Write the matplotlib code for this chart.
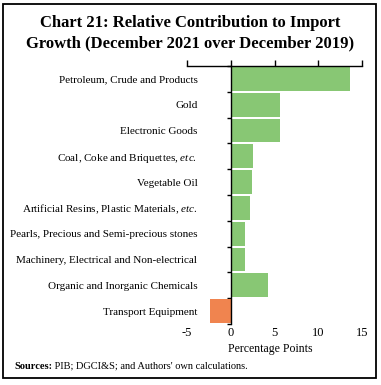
import matplotlib
matplotlib.use("Agg")
import matplotlib.pyplot as plt
from matplotlib.patches import Rectangle
import numpy as np

categories = [
    "Petroleum, Crude and Products",
    "Gold",
    "Electronic Goods",
    "Coal, Coke and Briquettes, $\\it{etc.}$",
    "Vegetable Oil",
    "Artificial Resins, Plastic Materials, $\\it{etc.}$",
    "Pearls, Precious and Semi-precious stones",
    "Machinery, Electrical and Non-electrical",
    "Organic and Inorganic Chemicals",
    "Transport Equipment",
]
values = [13.6, 5.6, 5.6, 2.5, 2.4, 2.15, 1.6, 1.6, 4.3, -2.4]
xticks = [-5, 0, 5, 10, 15]

GREEN = "#88C774"
ORANGE = "#F0844F"
FONT = "Liberation Serif"
plt.rcParams["font.family"] = FONT
plt.rcParams["mathtext.fontset"] = "custom"
plt.rcParams["mathtext.it"] = FONT + ":italic"
plt.rcParams["mathtext.rm"] = FONT
plt.rcParams["mathtext.bf"] = FONT + ":bold"

W, H = 381, 385
fig = plt.figure(figsize=(W / 100, H / 100), dpi=100)

def fx(px):
    return px / W

def fy(py):
    return 1 - py / H

ax = fig.add_axes([fx(187), fy(324), fx(362) - fx(187), fy(66) - fy(324)])
y = np.arange(len(categories))
colors = [GREEN if v >= 0 else ORANGE for v in values]
ax.barh(y, values, height=0.92, color=colors, zorder=2)
ax.set_xlim(-5, 15)
ax.set_ylim(len(categories) - 0.5, -0.5)

for s in ["right", "bottom"]:
    ax.spines[s].set_visible(False)
ax.spines["left"].set_position(("data", 0))
ax.spines["left"].set_zorder(3)
ax.spines["left"].set_linewidth(1.0)
ax.spines["top"].set_linewidth(1.0)

ax.set_xticks(xticks)
ax.set_xticklabels([str(t) for t in xticks])
ax.tick_params(axis="x", top=True, bottom=False, labeltop=False, labelbottom=True,
               direction="out", length=4, width=1.0, labelsize=9, pad=-2)

ax.set_yticks(y)
ax.set_yticklabels(categories)
ax.set_yticks(np.arange(-0.5, len(categories), 1), minor=True)
ax.tick_params(axis="y", which="major", length=0, pad=24, labelsize=8)
ax.tick_params(axis="y", which="minor", length=3, width=1.0, direction="out")

fig.text(fx(270), fy(349), "Percentage Points", ha="center", va="center", fontsize=8.5)

fig.text(fx(190), fy(23), "Chart 21: Relative Contribution to Import", ha="center",
         va="center", fontsize=12, fontweight="bold")
fig.text(fx(190), fy(43), "Growth (December 2021 over December 2019)", ha="center",
         va="center", fontsize=12, fontweight="bold")

src = fig.text(fx(14), fy(371), "Sources:", ha="left", va="bottom",
               fontsize=7.5, fontweight="bold")
fig.texts.append(matplotlib.text.Annotation(
    " PIB; DGCI&S; and Authors' own calculations.", xy=(1, 0), xycoords=src,
    ha="left", va="bottom", fontsize=7.5))
fig.texts[-1].set_figure(fig)

fig.patches.append(Rectangle((fx(3), fy(378)), fx(376) - fx(3), fy(4) - fy(378),
                             transform=fig.transFigure, fill=False, edgecolor="black",
                             linewidth=1.3))

fig.savefig("out.png", dpi=100)
